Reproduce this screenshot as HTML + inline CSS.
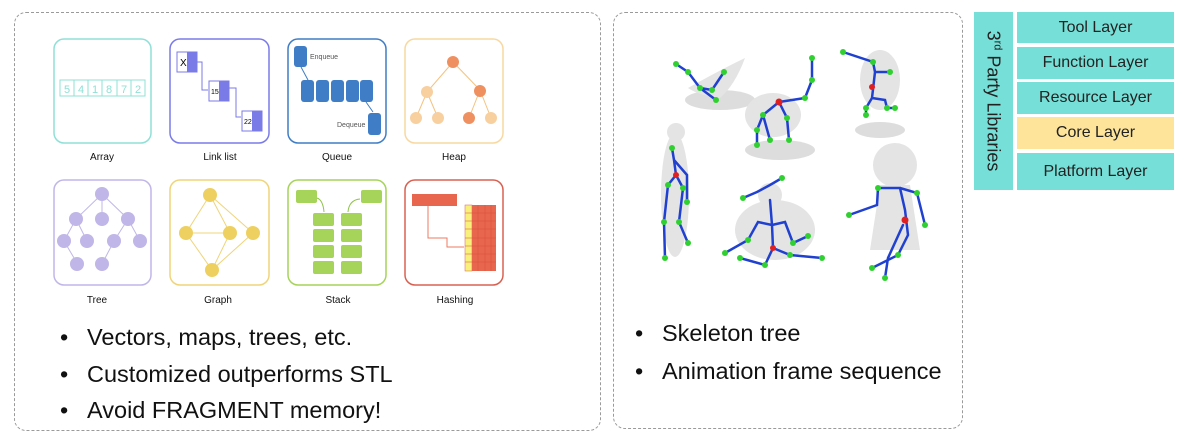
<!DOCTYPE html>
<html><head><meta charset="utf-8"><style>
body{margin:0;width:1184px;height:441px;background:#fff;overflow:hidden;font-family:"Liberation Sans",Arial,sans-serif;position:relative}
.panel{position:absolute;border:1.5px dashed #9a9a9a;border-radius:12px;box-sizing:border-box}
.bl{position:absolute;font-size:23.5px;color:#111;white-space:nowrap}
.bl span{position:absolute;left:-27px}
.lay{position:absolute;left:1017px;width:157px;background:#76e0d8;font-size:16px;color:#222;text-align:center;display:flex;align-items:center;justify-content:center}
</style></head><body>
<div class="panel" style="left:14px;top:12px;width:587px;height:419px"></div>
<div class="panel" style="left:613px;top:12px;width:350px;height:417px"></div>

<svg width="1184" height="441" style="position:absolute;left:0;top:0" font-family="Liberation Sans,Arial,sans-serif">
<g fill="none" stroke-width="1.5">
<rect x="54" y="39" width="97" height="104" rx="10" stroke="#8fe0d6"/>
<rect x="170" y="39" width="99" height="104" rx="10" stroke="#7b7be8"/>
<rect x="288" y="39" width="98" height="104" rx="10" stroke="#3f7dc6"/>
<rect x="405" y="39" width="98" height="104" rx="10" stroke="#f8d8a0"/>
<rect x="54" y="180" width="97" height="105" rx="10" stroke="#c0b6e8"/>
<rect x="170" y="180" width="99" height="105" rx="10" stroke="#f0d47a"/>
<rect x="288" y="180" width="98" height="105" rx="10" stroke="#a6d45a"/>
<rect x="405" y="180" width="98" height="105" rx="10" stroke="#d86050"/>
</g>
<!-- array -->
<g stroke="#8fe0d6" fill="none"><rect x="60" y="80" width="85" height="16"/>
<path d="M74,80v16M88,80v16M102,80v16M117,80v16M131,80v16"/></g>
<g fill="#8fe0d6" font-size="11" text-anchor="middle"><text x="67" y="93">5</text><text x="81" y="93">4</text><text x="95" y="93">1</text><text x="109" y="93">8</text><text x="124" y="93">7</text><text x="138" y="93">2</text></g>
<!-- link list -->
<rect x="177" y="52" width="20" height="20" fill="#fff" stroke="#7b7be8"/><rect x="187" y="52" width="10" height="20" fill="#7b7be8"/>
<rect x="209" y="81" width="20" height="20" fill="#fff" stroke="#7b7be8"/><rect x="219" y="81" width="10" height="20" fill="#7b7be8"/>
<rect x="242" y="111" width="20" height="20" fill="#fff" stroke="#7b7be8"/><rect x="252" y="111" width="10" height="20" fill="#7b7be8"/>
<text x="180" y="66" font-size="10">X</text><text x="211" y="94" font-size="7">15</text><text x="244" y="124" font-size="7">22</text>
<path d="M192,62H202V90H208M224,88H236V117H241" stroke="#7b7be8" fill="none" stroke-width="1"/>
<!-- queue -->
<g fill="#3f7dc6"><rect x="294" y="46" width="13" height="21" rx="3"/>
<rect x="301" y="80" width="13" height="22" rx="3"/><rect x="316" y="80" width="13" height="22" rx="3"/><rect x="331" y="80" width="13" height="22" rx="3"/><rect x="346" y="80" width="13" height="22" rx="3"/><rect x="360" y="80" width="13" height="22" rx="3"/>
<rect x="368" y="113" width="13" height="22" rx="3"/></g>
<text x="310" y="59" font-size="7" fill="#555">Enqueue</text><text x="337" y="127" font-size="7" fill="#555">Dequeue</text>
<path d="M301,67L308,80M366,102L373,112" stroke="#3f7dc6" stroke-width="1" fill="none"/>
<!-- heap -->
<path d="M453,62L427,92L416,118M427,92L438,118M453,62L480,90L469,118M480,90L491,118" stroke="#f5c27e" stroke-width="1" fill="none"/>
<circle cx="453" cy="62" r="6" fill="#ef9060"/><circle cx="427" cy="92" r="6" fill="#f8d0a0"/><circle cx="480" cy="91" r="6" fill="#ef9060"/>
<circle cx="416" cy="118" r="6" fill="#f8d0a0"/><circle cx="438" cy="118" r="6" fill="#f8d0a0"/><circle cx="469" cy="118" r="6" fill="#ef9060"/><circle cx="491" cy="118" r="6" fill="#f8d0a0"/>
<!-- tree -->
<path d="M102,194L76,219L64,241L77,263M76,219L87,241M102,194L102,219M102,194L128,219L114,241L102,264M128,219L140,241" stroke="#c0b6e8" stroke-width="1" fill="none"/>
<g fill="#c0b6e8"><circle cx="102" cy="194" r="7"/><circle cx="76" cy="219" r="7"/><circle cx="102" cy="219" r="7"/><circle cx="128" cy="219" r="7"/><circle cx="64" cy="241" r="7"/><circle cx="87" cy="241" r="7"/><circle cx="114" cy="241" r="7"/><circle cx="140" cy="241" r="7"/><circle cx="77" cy="264" r="7"/><circle cx="102" cy="264" r="7"/></g>
<!-- graph -->
<path d="M210,195L186,233L212,270L230,233Z M210,195L253,233L212,270 M186,233H230" stroke="#f0d47a" stroke-width="1" fill="none"/>
<g fill="#eed060"><circle cx="210" cy="195" r="7"/><circle cx="186" cy="233" r="7"/><circle cx="230" cy="233" r="7"/><circle cx="253" cy="233" r="7"/><circle cx="212" cy="270" r="7"/></g>
<!-- stack -->
<g fill="#a6d45a"><rect x="296" y="190" width="21" height="13" rx="2"/><rect x="361" y="190" width="21" height="13" rx="2"/>
<rect x="313" y="213" width="21" height="13" rx="2"/><rect x="341" y="213" width="21" height="13" rx="2"/>
<rect x="313" y="229" width="21" height="13" rx="2"/><rect x="341" y="229" width="21" height="13" rx="2"/>
<rect x="313" y="245" width="21" height="13" rx="2"/><rect x="341" y="245" width="21" height="13" rx="2"/>
<rect x="313" y="261" width="21" height="13" rx="2"/><rect x="341" y="261" width="21" height="13" rx="2"/></g>
<path d="M317,198Q323,200 324,212M348,212Q349,200 360,199" stroke="#8fc24a" fill="none" stroke-width="1"/>
<!-- hashing -->
<rect x="412" y="194" width="45" height="12" fill="#e8664e"/>
<rect x="465" y="205" width="7" height="66" fill="#f8f07a" stroke="#d86050" stroke-width=".5"/>
<rect x="472" y="205" width="24" height="66" fill="#e8664e"/>
<path d="M478,205v66M485,205v66M491,205v66M465,213h31M465,221h31M465,229h31M465,238h31M465,246h31M465,254h31M465,262h31" stroke="#d8503a" stroke-width=".5" fill="none"/>
<path d="M428,206V238H447V247H464" stroke="#ef7a60" fill="none" stroke-width="1"/>
<g font-size="10" text-anchor="middle" fill="#111"><text x="102" y="160">Array</text><text x="220" y="160">Link list</text><text x="337" y="160">Queue</text><text x="454" y="160">Heap</text>
<text x="97" y="303">Tree</text><text x="218" y="303">Graph</text><text x="338" y="303">Stack</text><text x="455" y="303">Hashing</text></g>

<!-- skeletons -->
<g fill="#e4e4e4"><ellipse cx="720" cy="100" rx="35" ry="10" fill="#ddd"/><ellipse cx="780" cy="150" rx="35" ry="10" fill="#ddd"/><ellipse cx="880" cy="130" rx="25" ry="8" fill="#ddd"/>
<path d="M688,88Q720,70 745,58Q735,85 720,98Q700,96 688,88Z"/>
<ellipse cx="773" cy="115" rx="28" ry="22"/><ellipse cx="880" cy="80" rx="20" ry="30"/>
<ellipse cx="675" cy="195" rx="14" ry="62"/><circle cx="676" cy="132" r="9"/>
<ellipse cx="775" cy="230" rx="40" ry="30"/><circle cx="770" cy="195" r="12"/>
<circle cx="895" cy="165" r="22"/><path d="M880,185L910,185L920,250L870,250Z"/></g>
<g stroke="#2040d0" stroke-width="2.5" fill="none" stroke-linecap="round">
<path d="M676,64L688,72L700,88L712,90L724,72M700,88L716,100"/>
<path d="M757,145L757,130L763,115L779,102L787,118L789,140M779,102L805,98L812,80L812,58M763,115L770,140"/>
<path d="M843,52L873,62L875,72L890,72M875,72L872,98L866,108L866,115M872,98L885,100L887,108L895,108"/>
<path d="M672,148L674,160L676,175L668,185L664,222L665,258M676,175L683,188L679,222L688,243M674,160L687,175L687,202"/>
<path d="M743,198L757,192L770,185L782,178M770,200L772,225L758,222L748,240L725,253M772,225L785,222L793,243L808,236M772,225L773,248L765,265L740,258M773,248L790,255L822,258"/>
<path d="M878,188L877,205L849,215M878,188L900,188L905,210L908,235L898,255L872,268M903,225L888,258L885,278M900,188L917,193L925,225"/>
</g>
<g fill="#30d030">
<circle cx="676" cy="64" r="3"/><circle cx="688" cy="72" r="3"/><circle cx="700" cy="88" r="3"/><circle cx="712" cy="90" r="3"/><circle cx="724" cy="72" r="3"/><circle cx="716" cy="100" r="3"/>
<circle cx="757" cy="145" r="3"/><circle cx="757" cy="130" r="3"/><circle cx="763" cy="115" r="3"/><circle cx="787" cy="118" r="3"/><circle cx="789" cy="140" r="3"/><circle cx="805" cy="98" r="3"/><circle cx="812" cy="80" r="3"/><circle cx="812" cy="58" r="3"/><circle cx="770" cy="140" r="3"/>
<circle cx="843" cy="52" r="3"/><circle cx="873" cy="62" r="3"/><circle cx="890" cy="72" r="3"/><circle cx="866" cy="108" r="3"/><circle cx="866" cy="115" r="3"/><circle cx="887" cy="108" r="3"/><circle cx="895" cy="108" r="3"/>
<circle cx="672" cy="148" r="3"/><circle cx="668" cy="185" r="3"/><circle cx="664" cy="222" r="3"/><circle cx="665" cy="258" r="3"/><circle cx="683" cy="188" r="3"/><circle cx="679" cy="222" r="3"/><circle cx="688" cy="243" r="3"/><circle cx="687" cy="202" r="3"/>
<circle cx="743" cy="198" r="3"/><circle cx="782" cy="178" r="3"/><circle cx="725" cy="253" r="3"/><circle cx="748" cy="240" r="3"/><circle cx="808" cy="236" r="3"/><circle cx="793" cy="243" r="3"/><circle cx="740" cy="258" r="3"/><circle cx="765" cy="265" r="3"/><circle cx="822" cy="258" r="3"/><circle cx="790" cy="255" r="3"/>
<circle cx="878" cy="188" r="3"/><circle cx="849" cy="215" r="3"/><circle cx="917" cy="193" r="3"/><circle cx="925" cy="225" r="3"/><circle cx="872" cy="268" r="3"/><circle cx="885" cy="278" r="3"/><circle cx="898" cy="255" r="3"/></g>
<g fill="#e02020"><circle cx="779" cy="102" r="3.5"/><circle cx="872" cy="87" r="3"/><circle cx="676" cy="175" r="3"/><circle cx="773" cy="248" r="3"/><circle cx="905" cy="220" r="3.5"/></g>
</svg>

<div class="bl" style="left:87px;top:324px"><span>•</span>Vectors, maps, trees, etc.</div>
<div class="bl" style="left:87px;top:361px"><span>•</span>Customized outperforms STL</div>
<div class="bl" style="left:87px;top:397px"><span>•</span>Avoid FRAGMENT memory!</div>
<div class="bl" style="left:662px;top:320px"><span>•</span>Skeleton tree</div>
<div class="bl" style="left:662px;top:358px"><span>•</span>Animation frame sequence</div>

<div style="position:absolute;left:974px;top:12px;width:39px;height:178px;background:#76e0d8"></div>
<div style="position:absolute;left:993px;top:101px;transform:translate(-50%,-50%) rotate(90deg);font-size:18px;color:#222;white-space:nowrap">3<sup style="font-size:11px">rd</sup> Party Libraries</div>
<div class="lay" style="top:12px;height:31px">Tool Layer</div>
<div class="lay" style="top:47px;height:32px">Function Layer</div>
<div class="lay" style="top:82px;height:32px">Resource Layer</div>
<div class="lay" style="top:117px;height:32px;background:#fde49a">Core Layer</div>
<div class="lay" style="top:153px;height:37px">Platform Layer</div>
</body></html>
